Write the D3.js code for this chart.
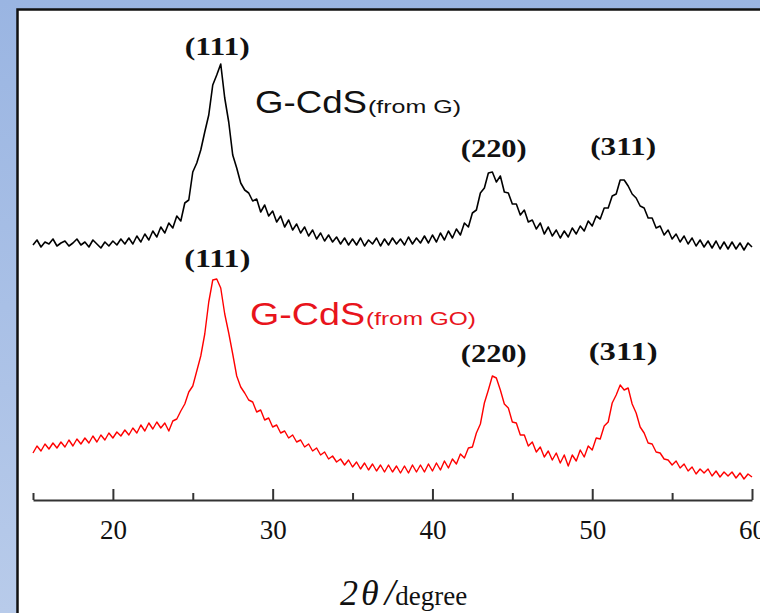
<!DOCTYPE html>
<html>
<head>
<meta charset="utf-8">
<script src="https://cdn.jsdelivr.net/npm/d3@7"></script>
<style>
html, body { margin: 0; padding: 0; }
body { width: 760px; height: 613px; overflow: hidden;
       background: linear-gradient(to bottom, #9ab5e2, #b8cbea); }
</style>
</head>
<body>
<div id="viz"></div>
<script>
// 2theta from 15 to 60 every 0.25 degree
var twoTheta = d3.range(15, 60.001, 0.25);

// intensity (a.u.), G-CdS (from G), drawn on top
var fromG = [45,50,43,48,46,51,44,47,49,44,47,51,45,48,43,50,46,42,48,44,
    49,45,51,46,52,46,54,48,56,50,59,53,63,57,67,62,74,69,87,90,
    118,127,140,158,175,205,215,226,192,168,135,122,107,100,97,89,91,78,85,74,
    79,68,74,63,70,60,66,57,63,54,60,51,57,49,55,48,53,46,52,45,
    51,45,52,44,50,46,52,44,51,45,52,46,51,45,53,46,52,47,54,47,
    55,48,57,50,59,52,61,55,67,63,77,80,97,102,117,118,108,114,98,97,
    86,86,75,80,68,70,61,67,56,63,54,60,52,59,53,62,56,64,59,69,
    64,74,71,82,82,94,96,110,110,104,96,92,84,82,72,72,62,64,55,60,
    51,56,48,54,46,52,44,50,43,49,42,49,41,48,41,48,41,47,40,47,43];

// intensity (a.u.), G-CdS (from GO)
var fromGO = [47,54,49,56,51,57,52,58,53,60,54,61,56,62,57,64,58,65,60,67,
    62,68,64,70,65,72,67,75,69,77,71,78,72,77,69,79,81,89,96,108,
    114,129,144,166,198,220,221,212,186,167,146,124,113,107,100,98,88,90,80,82,
    73,75,67,69,62,65,58,60,53,56,49,52,45,48,41,44,38,41,35,40,
    33,38,31,37,30,36,29,35,28,35,28,34,27,34,27,35,28,35,28,36,
    29,37,30,39,32,41,36,46,42,52,53,67,76,97,110,124,122,110,96,92,
    78,77,65,65,54,58,48,53,43,49,40,47,37,45,34,45,39,50,43,54,
    50,62,61,74,78,97,105,115,110,112,96,87,73,67,57,56,48,47,41,40,
    35,39,32,36,29,33,26,31,27,31,24,29,23,28,24,28,22,27,21,26,23];

var seriesNames = ["G-CdS", "G-CdS"];
var seriesSubs = ["(from G)", "(from GO)"];
var seriesColors = ["#000000", "#ff0000"];
var seriesOffsets = [210, 0];

var peakLabels = ["(111)", "(220)", "(311)"];
var peakPositions = [26.6, 43.9, 52.0];

var majorTicks = [20, 30, 40, 50, 60];
var minorTicks = [15, 25, 35, 45, 55];

var svg = d3.select("#viz")
    .append("svg")
    .attr("width", 760)
    .attr("height", 613)
    .style("display", "block");

// white panel with dark frame
svg.append("rect")
    .attr("x", 17.5)
    .attr("y", 9.5)
    .attr("width", 800)
    .attr("height", 700)
    .attr("fill", "#ffffff")
    .attr("stroke", "#111")
    .attr("stroke-width", 2.5);

var x = d3.scaleLinear().domain([15, 60]).range([33, 752]);
var y = d3.scaleLinear().domain([0, 460]).range([500, 40]);

var allSeries = [fromG, fromGO];

allSeries.forEach(function (vals, k) {
    var line = d3.line()
        .x(function (d, i) { return x(twoTheta[i]); })
        .y(function (d) { return y(d + seriesOffsets[k]); });
    svg.append("path")
        .datum(vals)
        .attr("d", line)
        .attr("fill", "none")
        .attr("stroke", seriesColors[k])
        .attr("stroke-width", k == 0 ? 1.6 : 1.4)
        .attr("stroke-linejoin", "round");
});

// peak labels above each curve
var labelBase = [[55, 157, 155], [267, 362, 360]];
var labelWidth = [[65, 66, 66], [66, 66, 69]];
[0, 1].forEach(function (k) {
    peakLabels.forEach(function (lab, j) {
        svg.append("text")
            .attr("x", x(peakPositions[j]) - labelWidth[k][j] / 2 - 1)
            .attr("y", labelBase[k][j])
            .attr("textLength", labelWidth[k][j])
            .attr("lengthAdjust", "spacingAndGlyphs")
            .attr("font-family", "Liberation Serif, Times New Roman, serif")
            .attr("font-weight", "bold")
            .attr("font-size", 26)
            .attr("fill", "#111")
            .text(lab);
    });
});

// series names
var namePos = [[255, 113, 112, 93], [250, 325, 115, 110]];
[0, 1].forEach(function (k) {
    var g = svg.append("g").attr("fill", seriesColors[k] == "#000000" ? "#111" : "#e8141c")
        .attr("font-family", "Liberation Sans, Arial, sans-serif");
    g.append("text")
        .attr("x", namePos[k][0])
        .attr("y", namePos[k][1])
        .attr("font-size", 31)
        .attr("textLength", namePos[k][2])
        .attr("lengthAdjust", "spacingAndGlyphs")
        .text(seriesNames[k]);
    g.append("text")
        .attr("x", namePos[k][0] + namePos[k][2] + 1)
        .attr("y", namePos[k][1])
        .attr("font-size", 19)
        .attr("textLength", namePos[k][3])
        .attr("lengthAdjust", "spacingAndGlyphs")
        .text(seriesSubs[k]);
});

// x axis
var axisMajor = d3.axisBottom(x)
    .tickValues(majorTicks)
    .tickSizeInner(-11)
    .tickSizeOuter(0)
    .tickPadding(20)
    .tickFormat(d3.format("d"));

var gx = svg.append("g")
    .attr("transform", "translate(0,500)")
    .call(axisMajor);
gx.select(".domain").attr("stroke", "#333").attr("stroke-width", 2);
gx.selectAll(".tick line").attr("stroke", "#333").attr("stroke-width", 2);
gx.selectAll(".tick text")
    .attr("font-family", "Liberation Serif, Times New Roman, serif")
    .attr("font-size", 27)
    .attr("fill", "#111");

var axisMinor = d3.axisBottom(x)
    .tickValues(minorTicks)
    .tickSizeInner(-7)
    .tickSizeOuter(0)
    .tickFormat("");
var gm = svg.append("g")
    .attr("transform", "translate(0,500)")
    .call(axisMinor);
gm.select(".domain").remove();
gm.selectAll(".tick line").attr("stroke", "#333").attr("stroke-width", 2);

// axis title
var title = svg.append("text")
    .attr("x", 340)
    .attr("y", 605)
    .attr("font-family", "Liberation Serif, Times New Roman, serif")
    .attr("fill", "#111");
title.append("tspan").attr("font-size", 36).attr("font-style", "italic").text("2");
title.append("tspan").attr("font-size", 36).attr("font-style", "italic").attr("dx", 3).text("θ");
title.append("tspan").attr("font-size", 38).attr("font-style", "italic").attr("dx", 6).text("/");
title.append("tspan").attr("font-size", 27).text("degree");
</script>
</body>
</html>
